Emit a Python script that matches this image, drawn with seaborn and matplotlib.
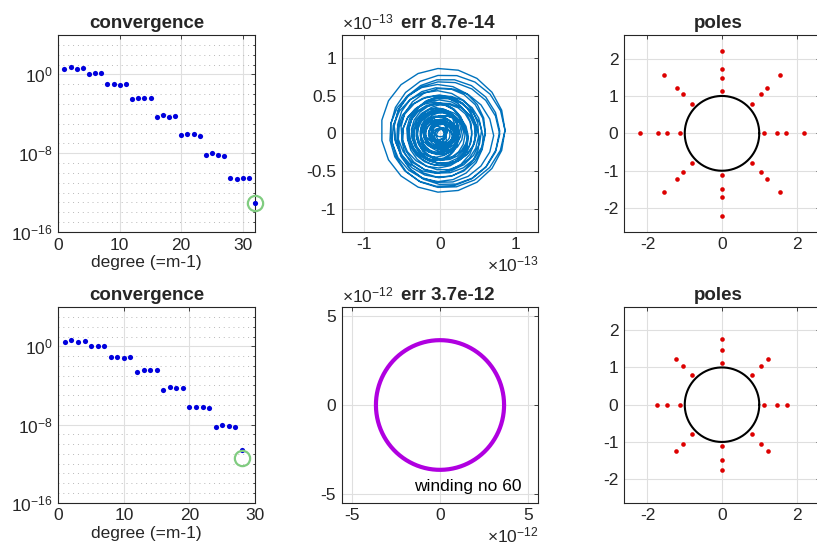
import numpy as np
import matplotlib
matplotlib.use("Agg")
import matplotlib.pyplot as plt
import matplotlib.ticker as mticker
import seaborn as sns

# convergence plots: log10 of the error for each degree
degree_top = list(range(1, 33))
log_err_top = [0.51, 0.71, 0.51, 0.61, 0.07, 0.10, 0.10,
               -1.02, -1.02, -1.09, -0.99, -2.48, -2.41, -2.38, -2.41,
               -4.35, -4.08, -4.29, -4.25, -6.12, -6.09, -6.09, -6.22,
               -8.23, -8.03, -8.16, -8.27, -10.54, -10.61, -10.51, -10.48,
               -13.03]
degree_bot = list(range(1, 29))
log_err_bot = [0.48, 0.65, 0.44, 0.54, 0.00, 0.03, 0.03,
               -1.09, -1.05, -1.16, -1.05, -2.59, -2.45, -2.41, -2.45,
               -4.42, -4.12, -4.29, -4.29, -6.16, -6.16, -6.16, -6.26,
               -8.27, -8.06, -8.20, -8.30, -10.61]
final_top = (32, -13.03)
final_bot = (28, -11.46)

# error curve of the top row, one radius per winding (units of 1e-13)
loop_r = [0.82, 0.55, 0.30, 0.20, 0.12, 0.25, 0.45, 0.74, 0.50, 0.33,
          0.15, 0.08, 0.22, 0.38, 0.58, 0.78, 0.48, 0.28, 0.18, 0.10,
          0.27, 0.42, 0.62, 0.52, 0.35, 0.24, 0.14, 0.06, 0.20, 0.32,
          0.46, 0.68, 0.40, 0.30, 0.21, 0.12, 0.05, 0.16, 0.26, 0.36,
          0.29, 0.19, 0.09, 0.13, 0.23, 0.34, 0.50, 0.82]
loop_cx = [0.04, 0.02, -0.05, 0.03, 0.06, -0.06, 0.03, 0.05, -0.03, 0.04,
           -0.07, 0.02, 0.05, -0.05, 0.02, 0.01, 0.04, -0.04, 0.06, -0.02,
           -0.05, 0.05, -0.02, 0.03, 0.02, -0.06, 0.04, 0.07, 0.03, -0.03,
           -0.04, 0.03, 0.02, 0.06, -0.05, -0.03, 0.02, 0.05, -0.02, 0.01,
           -0.06, 0.03, -0.04, 0.06, 0.00, -0.03, 0.01, 0.04]
loop_cy = [0.04, -0.04, 0.03, -0.07, 0.02, 0.05, -0.02, -0.01, 0.05, -0.05,
           -0.06, 0.04, 0.06, -0.03, 0.01, 0.03, -0.05, 0.04, -0.06, 0.02,
           0.05, -0.04, 0.00, 0.04, -0.06, 0.03, -0.07, -0.02, -0.04, 0.06,
           -0.02, -0.03, 0.03, -0.05, -0.03, 0.06, 0.01, -0.04, 0.05, -0.02,
           -0.06, 0.04, -0.03, -0.05, 0.06, 0.02, -0.04, 0.04]
err_unit_top = 1e-13
err_top = 8.7e-14

# error curve of the bottom row
winding_radius = 3.65e-12
winding_no = 60
err_unit_bot = 1e-12
err_bot = 3.7e-12

# poles lie on 8 rays
ray_angles_deg = [0, 45, 90, 135, 180, 225, 270, 315]
pole_r_top = [1.12, 1.48, 1.71, 2.20]
pole_r_bot = [1.12, 1.48, 1.75]

BLUE_DOT = '#0000DD'
GREEN = '#80CC80'
LINE_BLUE = '#0072BD'
PURPLE = '#B000E0'
RED = '#DD0000'
TXT = '#262626'
TICK_FS = 12.5
TITLE_FS = 13.5

sns.set_theme(style="white")
plt.rcParams['font.family'] = ['Liberation Sans', 'DejaVu Sans']
plt.rcParams['mathtext.fontset'] = 'custom'
plt.rcParams['mathtext.rm'] = 'Liberation Sans'
plt.rcParams['mathtext.it'] = 'Liberation Sans'
plt.rcParams['axes.unicode_minus'] = False

W, H = 817, 548
fig = plt.figure(figsize=(W / 100, H / 100), dpi=100)


def add_ax(x0, y0, x1, y1):
    return fig.add_axes([x0 / W, 1 - y1 / H, (x1 - x0) / W, (y1 - y0) / H])


def style_axes(ax):
    ax.set_facecolor('white')
    for s in ax.spines.values():
        s.set_visible(True)
        s.set_color(TXT)
        s.set_linewidth(0.8)
    ax.tick_params(which='both', direction='in', top=True, right=True,
                   colors=TXT, labelsize=TICK_FS, width=0.6)
    ax.tick_params(which='major', length=3, pad=4)
    ax.tick_params(which='minor', length=1.8)
    ax.grid(True, which='major', color='#DFDFDF', linewidth=0.8)
    ax.set_axisbelow(True)
    ax.set_xlabel('')
    ax.set_ylabel('')


def convergence(ax, deg, logerr, final, xmax):
    err = [10.0 ** v for v in logerr]
    sns.scatterplot(x=deg, y=err, ax=ax, color=BLUE_DOT, s=14, linewidth=0,
                    zorder=3, clip_on=False)
    ax.plot([final[0]], [10.0 ** final[1]], 'o', ms=11, mfc='none', mec=GREEN,
            mew=1.6, zorder=4, clip_on=False)
    ax.set_yscale('log')
    ax.set_ylim(1e-16, 1e4)
    ax.set_xlim(0, xmax)
    style_axes(ax)
    ax.yaxis.set_major_locator(mticker.FixedLocator([1e-16, 1e-8, 1e0]))
    ax.yaxis.set_major_formatter(mticker.LogFormatterMathtext())
    ax.yaxis.set_minor_locator(mticker.LogLocator(base=10, subs=(1.0,), numticks=60))
    ax.yaxis.set_minor_formatter(mticker.NullFormatter())
    ax.grid(True, which='minor', axis='y', color='#B8B8B8', linewidth=0.7,
            linestyle=(0, (1, 4)))
    ax.set_xticks([0, 10, 20, 30])
    ax.set_title('convergence', fontsize=TITLE_FS, fontweight='bold', pad=5, x=0.448)
    ax.set_xlabel('degree (=m-1)', fontsize=TICK_FS, color=TXT, labelpad=2)
    ax.xaxis.label.set_x(0.445)


def sci_axes(ax, unit, expo, xticks, yticks, xlim, ylim):
    ax.set_xlim(*xlim)
    ax.set_ylim(*ylim)
    style_axes(ax)
    fmt = mticker.FuncFormatter(lambda v, p: '%g' % round(v / unit, 6))
    ax.xaxis.set_major_locator(mticker.FixedLocator(xticks))
    ax.yaxis.set_major_locator(mticker.FixedLocator(yticks))
    ax.xaxis.set_major_formatter(fmt)
    ax.yaxis.set_major_formatter(fmt)
    lab = r'$\times\mathregular{10^{%d}}$' % expo
    ax.text(0.0, 1.012, lab, transform=ax.transAxes, ha='left', va='bottom',
            fontsize=TICK_FS, color=TXT)
    ax.text(1.0, -0.115, lab, transform=ax.transAxes, ha='right', va='top',
            fontsize=TICK_FS, color=TXT)


def poles(ax, radii):
    px, py = [], []
    for a in ray_angles_deg:
        for r in radii:
            px.append(r * np.cos(np.deg2rad(a)))
            py.append(r * np.sin(np.deg2rad(a)))
    t = np.linspace(0, 2 * np.pi, 300)
    sns.lineplot(x=np.cos(t), y=np.sin(t), sort=False, estimator=None, ax=ax,
                 color='black', linewidth=1.5)
    sns.scatterplot(x=px, y=py, ax=ax, color=RED, s=11, linewidth=0, zorder=3)
    ax.set_xlim(-2.63, 2.63)
    ax.set_ylim(-2.63, 2.63)
    style_axes(ax)
    ax.set_xticks([-2, 0, 2])
    ax.set_yticks([-2, -1, 0, 1, 2])
    ax.set_title('poles', fontsize=TITLE_FS, fontweight='bold', pad=5, x=0.483)


# top row
ax = add_ax(58.3, 35, 255, 232)
convergence(ax, degree_top, log_err_top, final_top, 32)

ax = add_ax(341.7, 35, 538.3, 231.7)
xs, ys = [], []
nv = 19
for i, r in enumerate(loop_r):
    j = min(i + 1, len(loop_r) - 1)
    for k in range(nv):
        f = k / nv
        th = 2 * np.pi * f
        rr = r + (loop_r[j] - r) * f
        cx = loop_cx[i] + (loop_cx[j] - loop_cx[i]) * f
        cy = loop_cy[i] + (loop_cy[j] - loop_cy[i]) * f
        xs.append((cx + rr * np.cos(th)) * err_unit_top)
        ys.append((cy + rr * np.sin(th)) * err_unit_top)
xs.append(xs[0])
ys.append(ys[0])
sns.lineplot(x=xs, y=ys, sort=False, estimator=None, ax=ax, color=LINE_BLUE,
             linewidth=1.0)
sci_axes(ax, err_unit_top, -13, [-1e-13, 0, 1e-13],
         [-1e-13, -0.5e-13, 0, 0.5e-13, 1e-13],
         (-1.3e-13, 1.3e-13), (-1.3e-13, 1.3e-13))
ax.set_title('err %.1e' % err_top, fontsize=TITLE_FS, fontweight='bold', pad=5, x=0.54)

ax = add_ax(624, 35, 820, 231.7)
poles(ax, pole_r_top)

# bottom row
ax = add_ax(58.3, 307.3, 255, 502.7)
convergence(ax, degree_bot, log_err_bot, final_bot, 30)

ax = add_ax(341.7, 307.3, 538.3, 502.7)
t = np.linspace(0, 2 * np.pi, 400)
sns.lineplot(x=winding_radius * np.cos(t), y=winding_radius * np.sin(t), sort=False,
             estimator=None, ax=ax, color=PURPLE, linewidth=3.0)
sci_axes(ax, err_unit_bot, -12, [-5e-12, 0, 5e-12], [-5e-12, 0, 5e-12],
         (-5.6e-12, 5.6e-12), (-5.5e-12, 5.5e-12))
ax.text(-1.5e-12, -4.6e-12, 'winding no %d' % winding_no, fontsize=TICK_FS,
        color='black', ha='left', va='center')
ax.set_title('err %.1e' % err_bot, fontsize=TITLE_FS, fontweight='bold', pad=5, x=0.54)

ax = add_ax(624, 306.7, 820, 502.7)
poles(ax, pole_r_bot)

fig.savefig('out.png', dpi=100)
